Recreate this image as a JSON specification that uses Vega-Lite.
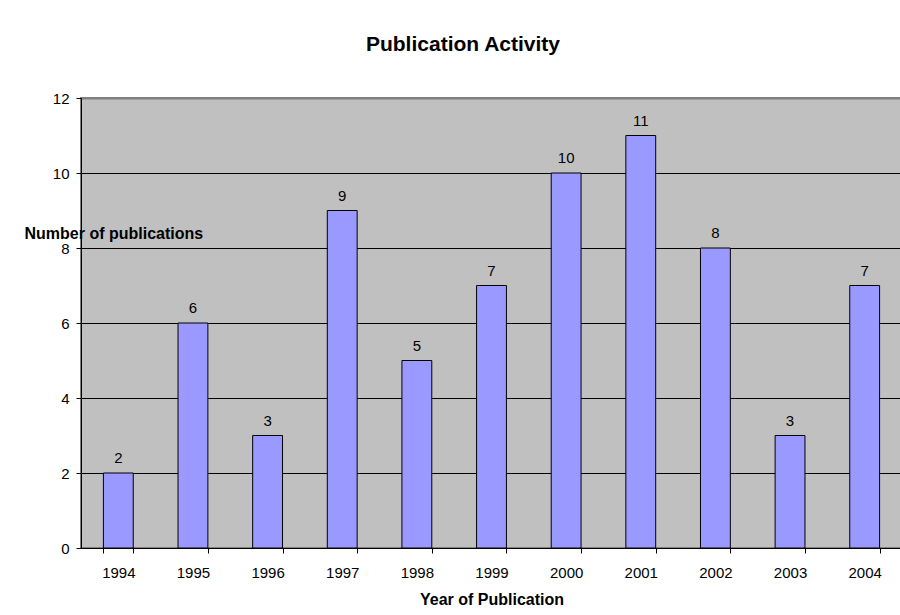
{
  "$schema": "https://vega.github.io/schema/vega-lite/v6.json",
  "width": 821,
  "height": 450,
  "autosize": {"type": "none"},
  "padding": {"left": 81, "top": 98, "right": 0, "bottom": 67},
  "background": "white",
  "title": {
    "text": "Publication Activity",
    "font": "Liberation Sans",
    "fontSize": 21,
    "fontWeight": "bold",
    "color": "#000000",
    "anchor": "middle",
    "frame": "bounds",
    "offset": 36
  },
  "data": {
    "values": [
      {"year": "1994", "count": 2},
      {"year": "1995", "count": 6},
      {"year": "1996", "count": 3},
      {"year": "1997", "count": 9},
      {"year": "1998", "count": 5},
      {"year": "1999", "count": 7},
      {"year": "2000", "count": 10},
      {"year": "2001", "count": 11},
      {"year": "2002", "count": 8},
      {"year": "2003", "count": 3},
      {"year": "2004", "count": 7}
    ]
  },
  "encoding": {
    "x": {
      "field": "year",
      "type": "ordinal",
      "scale": {"paddingInner": 0.6, "paddingOuter": 0.3},
      "axis": {
        "title": "Year of Publication",
        "titleFont": "Liberation Sans",
        "titleFontSize": 16,
        "titleFontWeight": "bold",
        "titleColor": "#000000",
        "titleBaseline": "alphabetic",
        "titleY": 56,
        "labelAngle": 0,
        "labelFont": "Liberation Sans",
        "labelFontSize": 15,
        "labelColor": "#000000",
        "labelPadding": 12,
        "tickBand": "extent",
        "tickSize": 5,
        "tickColor": "#000000",
        "domainColor": "#000000",
        "grid": false
      }
    },
    "y": {
      "field": "count",
      "type": "quantitative",
      "scale": {"domain": [0, 12], "nice": false},
      "axis": {
        "values": [0, 2, 4, 6, 8, 10, 12],
        "title": "Number of publications",
        "titleAngle": 0,
        "titleAlign": "left",
        "titleBaseline": "alphabetic",
        "titleX": -57,
        "titleY": 140,
        "titleFont": "Liberation Sans",
        "titleFontSize": 16,
        "titleFontWeight": "bold",
        "titleColor": "#000000",
        "labelFont": "Liberation Sans",
        "labelFontSize": 15,
        "labelColor": "#000000",
        "labelPadding": 7,
        "tickSize": 5,
        "tickColor": "#000000",
        "domainColor": "#000000",
        "grid": true,
        "gridColor": {"condition": {"test": "datum.value === 12", "value": "#808080"}, "value": "#000000"},
        "gridWidth": {"condition": {"test": "datum.value === 12", "value": 2}, "value": 1},
        "gridOpacity": 1
      }
    }
  },
  "layer": [
    {
      "mark": {"type": "bar", "fill": "#9999FF", "stroke": "#000000", "strokeWidth": 1}
    },
    {
      "mark": {
        "type": "text",
        "baseline": "alphabetic",
        "align": "center",
        "dy": -10,
        "font": "Liberation Sans",
        "fontSize": 15,
        "color": "#000000"
      },
      "encoding": {"text": {"field": "count", "type": "quantitative"}}
    }
  ],
  "config": {
    "view": {"fill": "#C0C0C0", "stroke": "#808080", "strokeWidth": 2}
  }
}
